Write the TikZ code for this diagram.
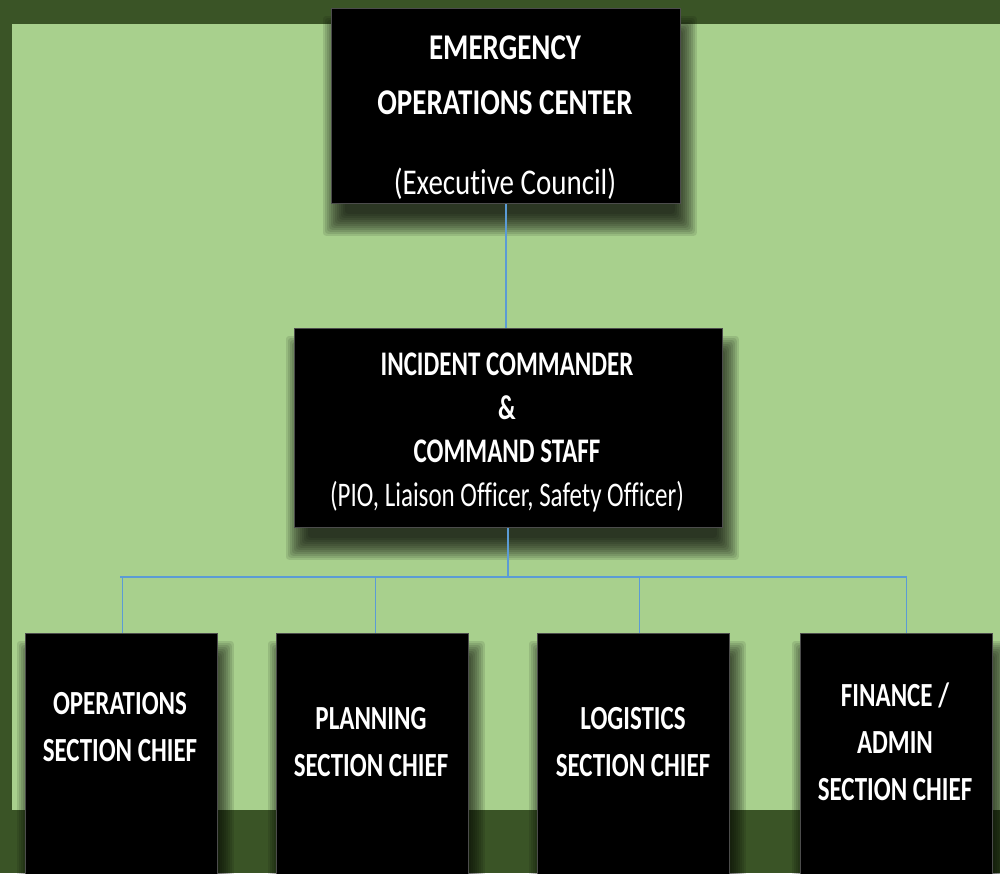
\documentclass[tikz,border=0pt]{standalone}
\usepackage{fontspec}
\setmainfont[Ligatures=NoCommon]{Carlito}

\definecolor{bgdark}{HTML}{3A5426}
\definecolor{panel}{HTML}{A8D08D}
\definecolor{linkblue}{HTML}{5B9BD5}

\pgfdeclarelayer{back}
\pgfdeclarelayer{shade}
\pgfsetlayers{back,shade,main}

% soft drop shadow behind a named box: stacked translucent rectangles
\newcommand\castshadow[1]{%
  \begin{pgfonlayer}{shade}
    \foreach \k in {0,...,11}{%
      \fill[black, fill opacity=0.1, rounded corners=3pt]
        ([shift={(4-12+2*\k,20-12+2*\k)}]#1.north west) rectangle
        ([shift={(4+12-2*\k,20+12-2*\k)}]#1.south east);
    }%
  \end{pgfonlayer}}

\begin{document}
\begin{tikzpicture}[x=1pt,y=-1pt,
  orgbox/.style={draw=black!70, line width=0.8pt, fill=black, inner sep=0pt,
    anchor=north west},
  boxtext/.style={text=white, align=center, inner sep=0pt, anchor=north},
  link/.style={draw=linkblue, line width=2pt},
  drop/.style={draw=linkblue, line width=1pt},
  bus/.style={draw=linkblue, line width=2.8pt}]

% page and panel
\useasboundingbox (0,0) rectangle (1000,873);
\clip (0,0) rectangle (1000,873);
\begin{pgfonlayer}{back}
  \fill[bgdark] (0,0) rectangle (1000,873);
  \fill[panel] (12,24) rectangle (1000,810);
\end{pgfonlayer}

% boxes
\node[orgbox, minimum width=349pt, minimum height=195pt] (eoc) at (331,8) {};
\node[orgbox, minimum width=428pt, minimum height=199pt] (ic) at (294,328) {};
\node[orgbox, minimum width=192pt, minimum height=270pt] (ops) at (25,633) {};
\node[orgbox, minimum width=192pt, minimum height=270pt] (plan) at (276,633) {};
\node[orgbox, minimum width=192pt, minimum height=270pt] (log) at (537,633) {};
\node[orgbox, minimum width=192pt, minimum height=270pt] (fin) at (800,633) {};

\castshadow{eoc}
\castshadow{ic}
\castshadow{ops}
\castshadow{plan}
\castshadow{log}
\castshadow{fin}

% box texts
\node[boxtext, yscale=1.25, font=\fontsize{29}{44}\selectfont\bfseries] (eoc-t) at (505,35)
  {EMERGENCY\\OPERATIONS CENTER\\[20pt]{\mdseries (Executive Council)}};
\node[boxtext, yscale=1.38, font=\fontsize{25}{31.5}\selectfont\bfseries] (ic-t) at (507,353)
  {INCIDENT COMMANDER\\\&\\COMMAND STAFF\\{\mdseries (PIO, Liaison Officer, Safety Officer)}};
\node[boxtext, yscale=1.35, font=\fontsize{25}{34.8}\selectfont\bfseries] (ops-t) at (120,692)
  {OPERATIONS\\SECTION CHIEF};
\node[boxtext, yscale=1.35, font=\fontsize{25}{34.8}\selectfont\bfseries] (plan-t) at (371,707)
  {PLANNING\\SECTION CHIEF};
\node[boxtext, yscale=1.35, font=\fontsize{25}{34.8}\selectfont\bfseries] (log-t) at (633,707)
  {LOGISTICS\\SECTION CHIEF};
\node[boxtext, yscale=1.35, font=\fontsize{25}{34.8}\selectfont\bfseries] (fin-t) at (895,683)
  {FINANCE /\\ADMIN\\SECTION CHIEF};

% connectors
\coordinate (busL) at (120,577);
\coordinate (busR) at (907,577);
\coordinate (b1) at (122,577);
\coordinate (b2) at (375,577);
\coordinate (b3) at (639,577);
\coordinate (b4) at (906,577);

\draw[link] (eoc.south) -- (eoc.south |- ic.north);
\draw[link] (ic.south) -- (ic.south |- busL);
\draw[bus] (busL) -- (busR);
\draw[drop] (b1) -- (b1 |- ops.north);
\draw[drop] (b2) -- (b2 |- plan.north);
\draw[drop] (b3) -- (b3 |- log.north);
\draw[drop] (b4) -- (b4 |- fin.north);
\end{tikzpicture}
\end{document}
